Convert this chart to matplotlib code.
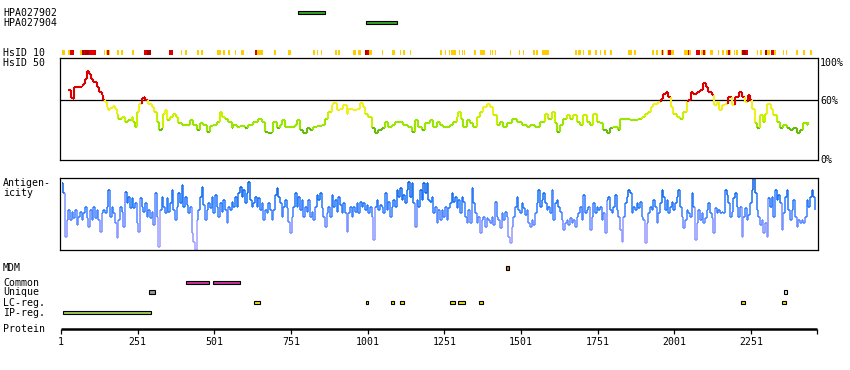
import numpy as np
import matplotlib
matplotlib.use("Agg")
import matplotlib.pyplot as plt
from matplotlib.collections import LineCollection
from matplotlib.patches import Rectangle
from matplotlib.colors import LinearSegmentedColormap

# ---------------- data ----------------
protein_length = 2466
axis_ticks = [1, 251, 501, 751, 1001, 1251, 1501, 1751, 2001, 2251]

antibody_names = ["HPA027902", "HPA027904"]
antibody_start = [774, 995]
antibody_end = [862, 1096]

# HsID 10 strip: Y = yellow, R = red, D = dark red
hsid10_start = [4, 24, 29, 64, 68, 76, 80, 91, 141, 148, 150, 157, 166, 173, 182, 196, 233, 273, 280, 354,
                392, 406, 417, 445, 458, 511, 528, 544, 569, 587, 635, 639, 695, 741, 824, 835, 848, 894, 905,
                954, 970, 992, 998, 1005, 1047, 1079, 1106, 1117, 1139,
                1237, 1253, 1266, 1272, 1300, 1309, 1315, 1348, 1367, 1400, 1406, 1417, 1465, 1494, 1507, 1540,
                1550, 1569, 1677, 1687, 1703, 1719, 1742, 1758, 1771, 1791, 1850, 1869, 1928, 1941, 1957, 1960,
                1964, 1977, 1980, 1990, 2033, 2046, 2049, 2072, 2088, 2095, 2101, 2117, 2143, 2156, 2169, 2176,
                2182, 2195, 2202, 2218, 2222, 2235, 2271, 2280, 2297, 2303, 2316, 2326, 2355, 2365, 2398, 2421, 2444]
hsid10_end = [13, 29, 42, 68, 76, 80, 91, 115, 144, 150, 157, 161, 168, 175, 190, 202, 238, 280, 293, 366,
              395, 411, 420, 452, 463, 522, 536, 552, 572, 598, 639, 661, 702, 750, 828, 840, 852, 902, 911,
              963, 978, 998, 1005, 1014, 1052, 1091, 1111, 1122, 1142,
              1243, 1256, 1269, 1289, 1303, 1312, 1318, 1354, 1383, 1403, 1410, 1420, 1468, 1498, 1511, 1546,
              1556, 1592, 1683, 1697, 1706, 1729, 1749, 1762, 1778, 1798, 1863, 1876, 1935, 1948, 1960, 1964,
              1967, 1980, 1990, 2000, 2046, 2049, 2056, 2085, 2095, 2101, 2104, 2127, 2147, 2163, 2176, 2182,
              2186, 2199, 2209, 2222, 2235, 2241, 2274, 2287, 2303, 2313, 2326, 2333, 2359, 2368, 2404, 2427, 2450]
hsid10_level = ["Y", "Y", "R", "Y", "D", "R", "D", "R", "Y", "Y", "R", "Y", "Y", "Y", "Y", "Y", "Y", "R", "D", "R",
                "Y", "Y", "Y", "Y", "Y", "Y", "Y", "Y", "Y", "Y", "R", "Y", "Y", "Y", "Y", "Y", "Y", "Y", "Y",
                "Y", "Y", "D", "R", "Y", "Y", "Y", "Y", "Y", "Y",
                "Y", "Y", "Y", "Y", "Y", "Y", "Y", "Y", "Y", "Y", "Y", "Y", "Y", "Y", "Y", "Y",
                "Y", "Y", "Y", "Y", "Y", "Y", "Y", "Y", "Y", "Y", "Y", "Y", "Y", "Y", "Y", "R",
                "Y", "Y", "R", "Y", "Y", "R", "Y", "R", "Y", "R", "Y", "Y", "Y", "Y", "Y", "R",
                "Y", "Y", "Y", "Y", "D", "R", "Y", "Y", "D", "Y", "R", "Y", "Y", "Y", "Y", "Y", "Y"]

# HsID 50 identity curve (percent)
hsid50_pos = [25, 33, 39, 43, 68, 74, 79, 87, 91, 98, 106, 117, 124, 134, 139, 145, 150, 155, 161, 172,
              177, 183, 188, 199, 210, 221, 231, 237, 242, 248, 256, 264, 272, 276, 286, 297, 304, 313, 322, 329,
              335, 340, 346, 356, 367, 376, 384, 395, 411, 422, 433, 443, 454, 465, 476, 487, 498, 509, 520, 525,
              536, 547, 558, 563, 574, 585, 601, 612, 628, 644, 655, 666, 677, 688, 693, 704, 715, 721, 731, 748,
              764, 769, 780, 791, 802, 813, 824, 835, 851, 862, 873, 884, 889, 900, 911, 922, 933, 938, 954, 965,
              976, 985, 992, 1003, 1014, 1025, 1036, 1047, 1058, 1068, 1079, 1090, 1101, 1117, 1134, 1144, 1155,
              1166, 1177, 1188, 1204,
              1215, 1226, 1237, 1248, 1259, 1269, 1280, 1291, 1297, 1304, 1313, 1324, 1335, 1346, 1356, 1367,
              1378, 1389, 1400, 1411, 1422, 1432, 1443, 1454, 1471, 1487, 1503, 1519, 1530, 1547, 1563, 1579,
              1590, 1601, 1612, 1619, 1628, 1639, 1650, 1661, 1672, 1682, 1693, 1704, 1715, 1726, 1737, 1748,
              1759, 1769, 1780, 1791, 1802, 1818, 1824, 1840, 1856, 1873, 1884, 1894, 1905, 1916, 1924, 1932,
              1949, 1956, 1965, 1974, 1981, 1989, 1998, 2009, 2019, 2030, 2041, 2047, 2054, 2063, 2074, 2085,
              2095, 2103, 2112, 2123, 2130, 2139, 2148, 2155, 2166, 2177, 2188, 2199, 2213, 2221, 2231, 2242,
              2248, 2253, 2264, 2272, 2280, 2289, 2297, 2304, 2315, 2324, 2335, 2346, 2356, 2367, 2378, 2389,
              2400, 2411, 2422, 2432, 2438]
hsid50_val = [70, 62, 61, 73.3, 74, 76.7, 81.7, 89.3, 86.7, 81.7, 78.3, 73.3, 68.3, 65, 60, 58.3, 53.3, 50, 52.7, 54,
              51.7, 46.7, 41.7, 43.3, 38.3, 40, 43.3, 38.3, 33.3, 48.3, 56.7, 62.3, 63.3, 60, 56.7, 53.3, 48.3, 38.3, 30, 31.7,
              46.7, 50, 40, 43.3, 46.7, 43.3, 36.7, 35, 35, 40, 35, 30, 36.7, 35, 28.3, 34, 35, 38.3, 48.3, 43.3,
              41.7, 38.3, 31.7, 35, 33.3, 34, 31.7, 35, 38.3, 41.7, 38.3, 28.3, 26.7, 28.3, 38.3, 31.7, 35, 40, 33.3, 33.3,
              35, 40, 30, 26.7, 31.7, 30, 33.3, 34, 35, 41.7, 48.3, 55, 57.3, 50, 51.7, 55, 46.7, 51.7, 50, 51.7,
              57.3, 53.3, 46.7, 43.3, 31.7, 26.7, 30, 31.7, 38.3, 33.3, 35, 38.3, 38.3, 35, 33.3, 28.3, 40,
              33.3, 30, 36.7, 40,
              33.3, 38.3, 35, 33.3, 33.3, 35, 38.3, 43.3, 48.3, 41.7, 33.3, 40, 36.7, 33.3, 43.3, 48.3,
              53.3, 56.7, 53.3, 45, 35, 38.3, 33.3, 36.7, 41.7, 38.3, 35, 33.3, 35, 33.3, 38.3, 46.7,
              41.7, 48.3, 36.7, 28.3, 35, 41.7, 45, 41.7, 45, 38.3, 35, 45, 38.3, 35, 46.7, 38.3,
              36.7, 30, 26.7, 31.7, 33.3, 30, 41.7, 41.7, 40, 40, 41.7, 43.3, 46.7, 48.3, 53.3, 56.7,
              58.3, 61.7, 66.7, 68.3, 63.3, 53.3, 46.7, 43.3, 41.7, 48.3, 58.3, 60, 68.3, 66.7, 68.3, 70,
              77.3, 73.3, 68.3, 65, 55, 58.3, 50, 55, 56.7, 63.3, 55, 63.3, 68.3, 63.3, 58.3, 65,
              60, 51.7, 36.7, 31.7, 45, 38.3, 46.7, 56.7, 51.7, 45, 38.3, 31.7, 35, 31.7, 30, 31.7,
              26.7, 30, 36.7, 35, 38.3]

# Antigenicity profile (relative units, 0-215), sampled evenly along the sequence
antigen_first, antigen_last = 3, 2460
antigen_val = [200, 170, 40, 90, 120, 90, 115, 95, 120, 75,
               100, 115, 90, 110, 130, 95, 70, 120, 90, 130,
               95, 120, 90, 55, 110, 120, 110, 130, 180, 100,
               130, 110, 80, 35, 90, 130, 115, 70, 175, 140,
               160, 125, 155, 125, 140, 80, 55, 155, 130, 115,
               140, 100, 120, 95, 115, 75, 170, 100, 10, 120,
               160, 130, 110, 155, 115, 140, 180, 120, 90, 130,
               170, 140, 195, 130, 160, 135, 110, 130, 50, 25,
               0, 90, 120, 160, 190, 135, 90, 120, 140, 125,
               160, 110, 165, 130, 100, 140, 115, 150, 120, 80,
               130, 120, 145, 130, 160, 130, 170, 190, 160, 180,
               140, 170, 205, 150, 130, 140, 160, 130, 155, 120,
               140, 90, 120, 110, 140, 120, 90, 120, 165, 185,
               160, 140, 100, 130, 150, 125, 85, 50, 100, 130,
               170, 130, 160, 120, 150, 100, 130, 115, 150, 100,
               115, 90, 130, 165, 150, 170, 125, 100, 70, 110,
               130, 100, 165, 130, 150, 115, 160, 135, 110, 140,
               110, 55, 110, 130, 100, 130, 115, 140, 110, 145,
               130, 140, 120, 135, 110, 130, 100, 30, 130, 150,
               120, 135, 130, 110, 170, 120, 145, 100, 130, 150,
               130, 180, 160, 185, 150, 165, 140, 180, 205, 160,
               200, 140, 70, 150, 130, 180, 150, 200, 170, 200,
               150,
               145, 160, 110, 130, 80, 120, 90, 120, 100, 130,
               90, 125, 140, 170, 145, 160, 125, 150, 110, 160,
               145, 100, 80, 120, 80, 185, 140, 110, 80, 100,
               50, 90, 100, 70, 95, 90, 80, 100, 75, 145,
               100, 90, 65, 110, 90, 115, 100, 40, 20, 70,
               100, 130, 160, 120, 110, 140, 125, 105, 120, 80,
               70, 90, 75, 110, 140, 180, 130, 150, 170, 140,
               120, 130, 110, 180, 90, 140, 150, 130, 115, 90,
               60, 80, 90, 75, 95, 80, 90, 70, 100, 110,
               130, 90, 165, 110, 120, 130, 60, 100, 140, 110,
               130, 120, 130, 90, 110, 50, 150, 160, 120, 110,
               130, 165, 120, 100, 60, 25, 100, 140, 160, 180,
               170, 110, 130, 120, 140, 125, 145, 100, 90, 20,
               80, 110, 130, 120, 150, 130, 80, 110, 140, 180,
               160, 120, 150, 110, 130, 145, 120, 140, 160, 180,
               130, 100, 65, 90, 120, 110, 100, 170, 130, 30,
               80, 120, 90, 110, 80, 95, 120, 140, 110, 95,
               50, 125, 110, 120, 110, 115, 110, 180, 165, 140,
               100, 115, 155, 170, 130, 100, 130, 40, 100, 125,
               90, 105, 140, 180, 215, 170, 120, 100, 75, 90,
               50, 80, 40, 155, 130, 160, 100, 180, 150, 165,
               140, 60, 110, 160, 180, 120, 90, 120, 150, 100,
               70, 90, 80, 90, 80, 100, 150, 130, 160, 180,
               160, 120]

# Feature tracks
mdm_start, mdm_end = [1452], [1463]
common_start, common_end = [410, 498], [483, 584]
unique_start, unique_end = [289, 2359], [306, 2367]
unique_fill = ["#999999", "#e8e8e8"]
lc_start = [631, 997, 1076, 1107, 1270, 1295, 1365, 2218, 2353]
lc_end = [649, 1001, 1086, 1118, 1285, 1320, 1376, 2230, 2364]
ip_start, ip_end = [9], [293]

if len(hsid50_pos) != len(hsid50_val):
    raise ValueError("hsid50 length mismatch %d %d" % (len(hsid50_pos), len(hsid50_val)))
if not (len(hsid10_start) == len(hsid10_end) == len(hsid10_level)):
    raise ValueError("hsid10 length mismatch")

# ---------------- layout ----------------
W, H = 850, 370
PX0 = 61.0                      # pixel of residue 1
PXR = (751.0 - 61.0) / 2250.0   # pixels per residue


def res_at(px):
    return 1 + (px - PX0) / PXR


FONT = dict(family="DejaVu Sans Mono", fontsize=7.1, color="black")

fig = plt.figure(figsize=(W / 100, H / 100), dpi=100)
fig.patch.set_facecolor("white")

# track axes: x in residues, y in pixel rows
tr = fig.add_axes([0, 0, 1, 1])
tr.set_xlim(res_at(0), res_at(W))
tr.set_ylim(H, 0)
tr.axis("off")


def box(ax, s, e, yc, h, fc, lw=0.8):
    ax.add_patch(Rectangle((s, yc - h / 2), e - s, h, facecolor=fc, edgecolor="black",
                           linewidth=lw, zorder=3))


# antibodies
for i, (name, s, e) in enumerate(zip(antibody_names, antibody_start, antibody_end)):
    yc = 12.5 + 10 * i
    tr.text(res_at(3), yc, name, ha="left", va="center", **FONT)
    box(tr, s, e, yc, 3.6, "#33a524")

# HsID 10 strip
lvl_color = {"Y": "#ffcc00", "R": "#dd0000", "D": "#aa0000"}
for s, e, l in zip(hsid10_start, hsid10_end, hsid10_level):
    tr.add_patch(Rectangle((s, 50), e - s, 5, facecolor=lvl_color[l], edgecolor="none", zorder=2))
tr.text(res_at(3), 52.5, "HsID 10", ha="left", va="center", **FONT)
tr.text(res_at(3), 63, "HsID 50", ha="left", va="center", **FONT)

# right percentage labels
for lab, yy in [("100%", 62.5), ("60%", 101), ("0%", 160)]:
    tr.text(res_at(820), yy, lab, ha="left", va="center", **FONT)

# Antigenicity labels
tr.text(res_at(3), 182.7, "Antigen-", ha="left", va="center", **FONT)
tr.text(res_at(3), 193.3, "icity", ha="left", va="center", **FONT)

# feature rows
rows = [("MDM", 268), ("Common", 282.5), ("Unique", 292.3), ("LC-reg.", 302.5), ("IP-reg.", 312.5)]
for lab, yy in rows:
    tr.text(res_at(3), yy, lab, ha="left", va="center", **FONT)
for s, e in zip(mdm_start, mdm_end):
    box(tr, s, e, 268, 4.8, "#d07a20")
for s, e in zip(common_start, common_end):
    box(tr, s, e, 282.5, 3.8, "#cc3399")
for s, e, c in zip(unique_start, unique_end, unique_fill):
    box(tr, s, e, 292.3, 3.8, c)
for s, e in zip(lc_start, lc_end):
    box(tr, s, e, 302.5, 3.8, "#f0e020")
for s, e in zip(ip_start, ip_end):
    box(tr, s, e, 312.5, 3.8, "#9dc85a")

# protein axis
tr.text(res_at(3), 329, "Protein", ha="left", va="center", **FONT)
tr.plot([1, protein_length], [329, 329], color="black", lw=1.8, solid_capstyle="butt")
for t in axis_ticks + [protein_length]:
    tr.plot([t, t], [329, 333.7], color="black", lw=0.9, solid_capstyle="butt")
for t in axis_ticks:
    tr.text(t, 342, str(t), ha="center", va="center", **FONT)

# ---------------- HsID 50 panel ----------------
bx0, bx1 = 60.3, 817.5
ax1 = fig.add_axes([bx0 / W, (H - 160) / H, (bx1 - bx0) / W, (160 - 58.3) / H])
ax1.set_xlim(res_at(bx0), res_at(bx1))
ax1.set_ylim(0, 102.2)
ax1.set_xticks([]); ax1.set_yticks([])
for sp in ax1.spines.values():
    sp.set_linewidth(0.9)
ax1.axhline(60, color="black", lw=0.9, zorder=1)


def hsid_color(v):
    if v >= 60:
        return "#dd0000"
    if v >= 50:
        return "#f0f020"
    if v >= 42:
        return "#c8f000"
    if v >= 32:
        return "#99e600"
    return "#66bb10"


segs, cols = [], []
for i in range(len(hsid50_pos) - 1):
    x0, x1 = hsid50_pos[i], hsid50_pos[i + 1]
    y0, y1 = hsid50_val[i], hsid50_val[i + 1]
    segs.append([(x0, y0), (x1, y0)]); cols.append(hsid_color(y0))
    segs.append([(x1, y0), (x1, y1)]); cols.append(hsid_color(max(y0, y1) if (y0 >= 60) == (y1 >= 60) else y1))
ax1.add_collection(LineCollection(segs, colors=cols, linewidths=1.5, zorder=2, capstyle="butt"))

# ---------------- Antigenicity panel ----------------
ax2 = fig.add_axes([bx0 / W, (H - 250) / H, (bx1 - bx0) / W, (250 - 178.3) / H])
ax2.set_xlim(res_at(bx0), res_at(bx1))
ax2.set_ylim(0, 215)
ax2.set_xticks([]); ax2.set_yticks([])
for sp in ax2.spines.values():
    sp.set_linewidth(0.9)

cmap = LinearSegmentedColormap.from_list("ag", [(0, "#a8a0ff"), (0.3, "#6e8cff"), (0.5, "#2f7cff"),
                                                (0.7, "#0e6cf4"), (1.0, "#004cc0")])
apos = np.linspace(antigen_first, antigen_last, len(antigen_val))
segs, cols = [], []
for i in range(len(antigen_val) - 1):
    x0, x1 = apos[i], apos[i + 1]
    y0, y1 = antigen_val[i], antigen_val[i + 1]
    segs.append([(x0, y0), (x1, y0)]); cols.append(cmap(y0 / 215))
    segs.append([(x1, y0), (x1, y1)]); cols.append(cmap(min(y0, y1) / 215))
ax2.add_collection(LineCollection(segs, colors=cols, linewidths=1.1, zorder=2, capstyle="butt"))

fig.savefig("out.png", dpi=100, facecolor="white")
